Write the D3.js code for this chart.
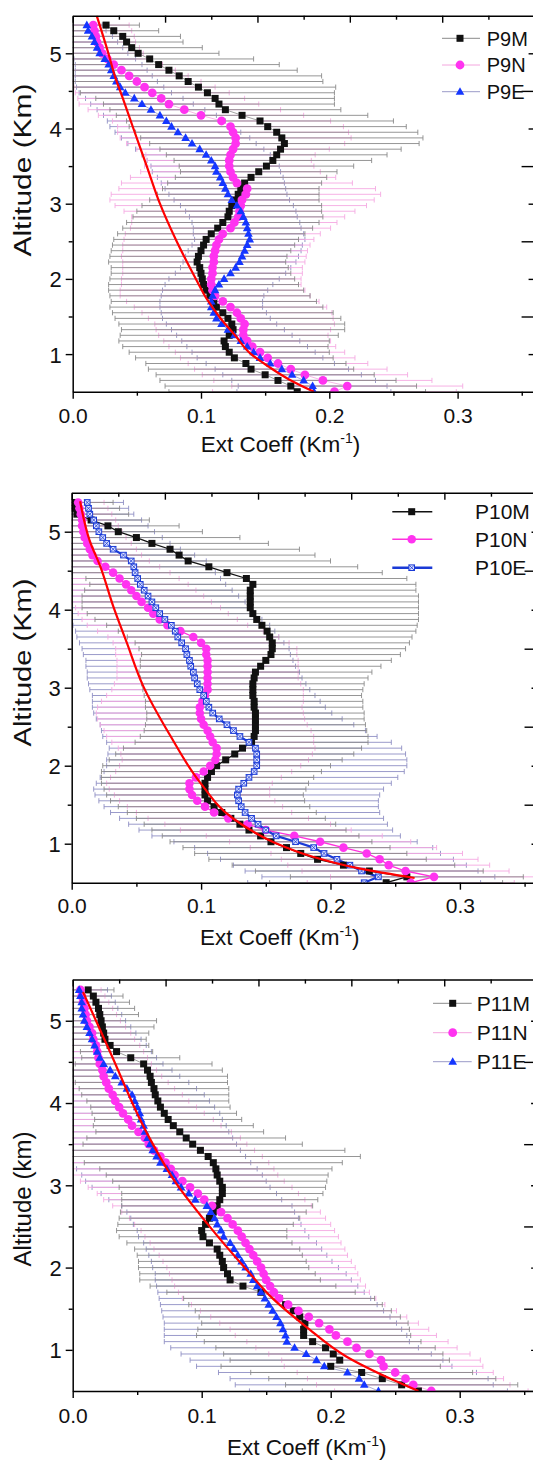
<!DOCTYPE html>
<html><head><meta charset="utf-8">
<script src="https://cdn.jsdelivr.net/npm/d3@7/dist/d3.min.js"></script>
<style>body{margin:0;background:#fff}svg{display:block}</style>
</head><body>
<svg id="c" width="533" height="1460"></svg>
<script>
// ---------------- DATA ----------------
const altitudes = [0.5,0.575,0.65,0.725,0.8,0.875,0.95,1.025,1.1,1.175,
 1.25,1.325,1.4,1.475,1.55,1.625,1.7,1.775,1.85,1.925,
 2.0,2.075,2.15,2.225,2.3,2.375,2.45,2.525,2.6,2.675,
 2.75,2.825,2.9,2.975,3.05,3.125,3.2,3.275,3.35,3.425,
 3.5,3.575,3.65,3.725,3.8,3.875,3.95,4.025,4.1,4.175,
 4.25,4.325,4.4,4.475,4.55,4.625,4.7,4.775,4.85,4.925,
 5.0,5.075,5.15,5.225,5.3,5.375];

const xTickValues = [0, 0.1, 0.2, 0.3];
const xTickLabels = ["0.0", "0.1", "0.2", "0.3"];
const yTickValues = [1, 2, 3, 4, 5];
const yTickLabels = ["1", "2", "3", "4", "5"];

// Panel P9
const p9M = [0.175,0.170,0.160,0.150,0.139,0.135,0.126,0.122,0.119,0.118,
 0.122,0.125,0.124,0.121,0.117,0.112,0.110,0.107,0.104,0.102,
 0.101,0.100,0.099,0.097,0.098,0.100,0.102,0.104,0.108,0.113,
 0.117,0.121,0.122,0.124,0.126,0.129,0.131,0.134,0.139,0.145,
 0.151,0.156,0.159,0.162,0.165,0.163,0.159,0.152,0.146,0.132,
 0.119,0.114,0.111,0.105,0.098,0.090,0.083,0.075,0.067,0.060,
 0.051,0.046,0.042,0.039,0.032,0.026];
const p9MErr = [0.100,0.098,0.092,0.085,0.080,0.078,0.077,0.078,0.080,0.082,
 0.085,0.087,0.088,0.088,0.086,0.083,0.080,0.078,0.076,0.074,
 0.072,0.070,0.069,0.069,0.069,0.070,0.071,0.072,0.073,0.074,
 0.075,0.074,0.072,0.070,0.066,0.063,0.061,0.060,0.059,0.061,
 0.068,0.077,0.086,0.094,0.105,0.110,0.110,0.108,0.104,0.098,
 0.090,0.090,0.093,0.099,0.107,0.105,0.111,0.100,0.094,0.081,
 0.063,0.055,0.044,0.045,0.035,0.026];
const p9N = [0.204,0.214,0.195,0.181,0.170,0.160,0.152,0.146,0.140,0.136,
 0.133,0.133,0.134,0.131,0.128,0.123,0.117,0.111,0.109,0.108,
 0.108,0.109,0.109,0.110,0.110,0.111,0.112,0.114,0.117,0.123,
 0.126,0.129,0.130,0.131,0.132,0.135,0.136,0.128,0.125,0.123,
 0.122,0.122,0.123,0.125,0.127,0.127,0.125,0.123,0.116,0.100,
 0.087,0.075,0.069,0.062,0.056,0.050,0.044,0.038,0.032,0.027,
 0.023,0.021,0.019,0.018,0.017,0.016];
const p9NErr = [0.095,0.090,0.085,0.080,0.075,0.070,0.068,0.066,0.065,0.065,
 0.066,0.068,0.070,0.072,0.074,0.075,0.075,0.074,0.072,0.070,
 0.070,0.070,0.070,0.071,0.072,0.072,0.073,0.074,0.076,0.078,
 0.080,0.083,0.090,0.098,0.103,0.105,0.100,0.090,0.080,0.070,
 0.066,0.064,0.066,0.075,0.085,0.090,0.090,0.088,0.085,0.080,
 0.075,0.070,0.065,0.060,0.055,0.050,0.046,0.042,0.038,0.035,
 0.032,0.031,0.030,0.030,0.029,0.028];
const p9E = [0.188,0.187,0.180,0.171,0.163,0.154,0.146,0.141,0.136,0.131,
 0.126,0.121,0.116,0.112,0.110,0.108,0.108,0.109,0.111,0.114,
 0.118,0.123,0.127,0.130,0.132,0.134,0.136,0.138,0.137,0.136,
 0.135,0.133,0.131,0.128,0.124,0.121,0.119,0.117,0.115,0.112,
 0.111,0.108,0.104,0.099,0.093,0.088,0.082,0.077,0.073,0.068,
 0.061,0.054,0.048,0.041,0.037,0.034,0.032,0.030,0.028,0.025,
 0.021,0.019,0.017,0.015,0.012,0.011];
const p9EErr = [0.060,0.058,0.056,0.054,0.052,0.050,0.049,0.048,0.047,0.046,
 0.045,0.044,0.043,0.042,0.041,0.040,0.040,0.040,0.041,0.042,
 0.043,0.043,0.043,0.044,0.044,0.044,0.043,0.043,0.043,0.042,
 0.042,0.042,0.043,0.044,0.045,0.046,0.047,0.048,0.049,0.050,
 0.050,0.050,0.050,0.050,0.050,0.050,0.049,0.048,0.046,0.044,
 0.042,0.040,0.038,0.036,0.034,0.032,0.030,0.028,0.026,0.024,
 0.022,0.020,0.018,0.016,0.014,0.012];
const p9FitAlt = [0.5,0.66,0.83,1.0,1.24,1.48,1.72,2.0,2.5,3.0,3.5,4.0,4.38,4.69,5.0,5.5];
const p9FitVal = [0.188,0.169,0.153,0.139,0.127,0.115,0.105,0.096,0.081,0.068,0.0577,0.0473,0.0395,0.033,0.0278,0.0187];

// Panel P10
const p10M = [0.243,0.259,0.230,0.210,0.190,0.177,0.166,0.154,0.146,0.137,
 0.130,0.123,0.116,0.110,0.105,0.103,0.103,0.103,0.105,0.108,
 0.112,0.119,0.126,0.132,0.139,0.141,0.142,0.142,0.142,0.142,
 0.141,0.141,0.140,0.140,0.140,0.141,0.142,0.146,0.150,0.154,
 0.155,0.155,0.153,0.151,0.147,0.143,0.140,0.138,0.138,0.138,
 0.138,0.140,0.135,0.120,0.106,0.090,0.083,0.076,0.062,0.050,
 0.036,0.028,0.015,0.004,0.002,0.002];
const p10MErr = [0.09,0.09,0.088,0.086,0.084,0.082,0.08,0.078,0.076,0.075,
 0.074,0.073,0.073,0.074,0.075,0.076,0.078,0.08,0.082,0.085,
 0.088,0.09,0.092,0.092,0.09,0.088,0.086,0.085,0.084,0.084,
 0.084,0.084,0.084,0.085,0.086,0.088,0.09,0.093,0.097,0.1,
 0.103,0.106,0.11,0.115,0.12,0.125,0.128,0.13,0.13,0.13,
 0.128,0.126,0.124,0.12,0.115,0.11,0.105,0.1,0.09,0.08,
 0.065,0.055,0.045,0.04,0.035,0.03];
const p10N = [0.262,0.280,0.258,0.245,0.238,0.228,0.210,0.192,0.172,0.150,
 0.136,0.121,0.110,0.103,0.097,0.093,0.091,0.091,0.096,0.102,
 0.107,0.111,0.112,0.112,0.109,0.107,0.105,0.102,0.100,0.099,
 0.099,0.101,0.103,0.105,0.105,0.105,0.105,0.105,0.105,0.104,
 0.104,0.100,0.094,0.084,0.074,0.068,0.063,0.059,0.054,0.050,
 0.046,0.042,0.037,0.032,0.026,0.020,0.016,0.014,0.012,0.010,
 0.009,0.008,0.008,0.007,0.006,0.005];
const p10NErr = [0.08,0.08,0.08,0.078,0.076,0.074,0.072,0.07,0.068,0.066,
 0.064,0.062,0.06,0.06,0.06,0.06,0.062,0.064,0.066,0.068,
 0.07,0.072,0.074,0.076,0.078,0.08,0.08,0.08,0.08,0.08,
 0.079,0.078,0.076,0.074,0.072,0.07,0.07,0.07,0.07,0.07,
 0.07,0.068,0.066,0.064,0.062,0.06,0.058,0.056,0.054,0.052,
 0.05,0.048,0.046,0.044,0.042,0.04,0.038,0.036,0.034,0.032,
 0.03,0.028,0.026,0.024,0.022,0.02];
const p10E = [0.226,0.237,0.224,0.215,0.205,0.195,0.187,0.173,0.158,0.150,
 0.144,0.139,0.134,0.131,0.129,0.128,0.129,0.133,0.137,0.141,
 0.143,0.143,0.143,0.142,0.137,0.130,0.125,0.120,0.114,0.109,
 0.106,0.104,0.102,0.099,0.097,0.095,0.094,0.092,0.091,0.089,
 0.088,0.085,0.082,0.080,0.077,0.072,0.068,0.065,0.062,0.059,
 0.056,0.053,0.051,0.049,0.048,0.046,0.040,0.032,0.027,0.024,
 0.021,0.019,0.017,0.014,0.013,0.012];
const p10EErr = [0.09,0.09,0.09,0.09,0.09,0.09,0.092,0.094,0.096,0.098,
 0.1,0.102,0.104,0.106,0.108,0.11,0.112,0.114,0.115,0.116,
 0.116,0.116,0.115,0.113,0.11,0.106,0.102,0.098,0.095,0.092,
 0.09,0.088,0.086,0.085,0.084,0.083,0.082,0.081,0.08,0.08,
 0.08,0.079,0.078,0.077,0.076,0.075,0.074,0.073,0.072,0.07,
 0.068,0.066,0.064,0.062,0.06,0.058,0.055,0.052,0.049,0.046,
 0.043,0.04,0.037,0.034,0.031,0.028];
const p10FitAlt = [0.56,0.68,0.83,1.02,1.32,1.79,2.39,3.03,3.58,4.05,4.56,4.88,5.39];
const p10FitVal = [0.265,0.223,0.187,0.156,0.125,0.099,0.076,0.055,0.0425,0.032,0.022,0.014,0.0065];

// Panel P11
const p11M = [0.268,0.255,0.240,0.224,0.200,0.207,0.202,0.196,0.186,0.179,
 0.179,0.180,0.176,0.171,0.165,0.160,0.146,0.132,0.122,0.120,
 0.117,0.116,0.114,0.112,0.106,0.101,0.100,0.103,0.106,0.109,
 0.112,0.114,0.116,0.116,0.114,0.112,0.111,0.109,0.105,0.099,
 0.093,0.088,0.083,0.078,0.074,0.071,0.068,0.066,0.064,0.063,
 0.061,0.060,0.058,0.055,0.045,0.034,0.029,0.025,0.024,0.023,
 0.022,0.021,0.020,0.018,0.016,0.012];
const p11MErr = [0.09,0.09,0.088,0.086,0.085,0.085,0.085,0.085,0.084,0.083,
 0.082,0.08,0.078,0.076,0.075,0.074,0.073,0.072,0.07,0.068,
 0.066,0.065,0.064,0.064,0.064,0.065,0.066,0.068,0.07,0.072,
 0.074,0.076,0.078,0.08,0.083,0.086,0.09,0.1,0.118,0.112,
 0.085,0.077,0.065,0.062,0.057,0.056,0.054,0.055,0.057,0.058,
 0.059,0.06,0.058,0.053,0.038,0.028,0.03,0.032,0.035,0.04,
 0.043,0.03,0.028,0.026,0.023,0.02];
const p11N = [0.278,0.264,0.258,0.250,0.241,0.239,0.230,0.220,0.213,0.204,
 0.199,0.191,0.183,0.175,0.167,0.160,0.156,0.153,0.150,0.148,
 0.146,0.143,0.140,0.137,0.134,0.131,0.128,0.124,0.120,0.115,
 0.108,0.102,0.097,0.091,0.085,0.079,0.076,0.072,0.068,0.063,
 0.059,0.056,0.051,0.046,0.043,0.039,0.036,0.033,0.031,0.028,
 0.026,0.024,0.023,0.021,0.020,0.019,0.018,0.016,0.015,0.013,
 0.011,0.010,0.009,0.008,0.007,0.006];
const p11NErr = [0.075,0.075,0.076,0.076,0.077,0.077,0.078,0.078,0.078,0.078,
 0.077,0.077,0.076,0.076,0.075,0.075,0.074,0.074,0.073,0.073,
 0.073,0.073,0.073,0.074,0.074,0.075,0.075,0.076,0.076,0.077,
 0.077,0.078,0.078,0.079,0.079,0.08,0.08,0.08,0.079,0.078,
 0.076,0.074,0.072,0.069,0.066,0.063,0.06,0.057,0.054,0.051,
 0.048,0.045,0.042,0.04,0.038,0.036,0.034,0.032,0.03,0.028,
 0.026,0.024,0.022,0.02,0.018,0.016];
const p11E = [0.237,0.226,0.222,0.213,0.195,0.189,0.181,0.172,0.166,0.165,
 0.163,0.161,0.158,0.155,0.152,0.149,0.146,0.143,0.140,0.138,
 0.134,0.131,0.128,0.125,0.122,0.117,0.115,0.112,0.110,0.107,
 0.104,0.095,0.090,0.084,0.080,0.077,0.073,0.068,0.065,0.062,
 0.060,0.058,0.056,0.055,0.053,0.052,0.050,0.048,0.046,0.042,
 0.038,0.033,0.029,0.024,0.021,0.019,0.017,0.015,0.013,0.011,
 0.009,0.008,0.007,0.007,0.006,0.005];
const p11EErr = [0.1,0.1,0.1,0.1,0.099,0.098,0.097,0.096,0.095,0.094,
 0.092,0.09,0.088,0.086,0.084,0.082,0.08,0.078,0.076,0.074,
 0.072,0.07,0.069,0.068,0.067,0.066,0.065,0.065,0.065,0.065,
 0.066,0.067,0.068,0.069,0.07,0.07,0.07,0.07,0.069,0.068,
 0.067,0.066,0.065,0.064,0.063,0.062,0.06,0.058,0.056,0.054,
 0.052,0.05,0.048,0.046,0.044,0.042,0.04,0.038,0.036,0.034,
 0.032,0.03,0.028,0.026,0.024,0.022];
const p11FitAlt = [0.5,0.63,0.92,1.28,1.61,1.97,2.54,3.03,3.65,4.62,5.35];
const p11FitVal = [0.268,0.249,0.212,0.181,0.156,0.135,0.104,0.080,0.057,0.029,0.008];

// ---------------- LAYOUT / STYLE ----------------
const FONT = "'Liberation Sans', Arial, Helvetica, sans-serif";
const X_MAX = 0.36;
const topMajor = [0, 0.072, 0.144, 0.216, 0.288, 0.36];
const topMinor = [0.036, 0.108, 0.18, 0.252, 0.324];
const xMinor = [0.05, 0.15, 0.25, 0.35];
const yMinor = [1.5, 2.5, 3.5, 4.5];

const panels = [
  { left: 72.7, top: 15.7, bottom: 391.7, ppu: 1283, heavy: false,
    series: [
      {name: "P9M", vals: p9M, errs: p9MErr, marker: "square", color: "#111", line: "#8a8a8a", lw: 0.8, err: "#8a8a8a"},
      {name: "P9N", vals: p9N, errs: p9NErr, marker: "circle", color: "#ff33f0", line: "#f4a6de", lw: 0.8, err: "#f5a9e2"},
      {name: "P9E", vals: p9E, errs: p9EErr, marker: "triangle", color: "#1436ff", line: "#9a9ac8", lw: 0.8, err: "#8f8fc4"}],
    fitAlt: p9FitAlt, fitVal: p9FitVal,
    legend: {rows: [38.3, 65, 91.7], x1: 442, x2: 480, mx: 460, tx: 486.7, fs: 20},
    ytitle: "Altitude (Km)", ytY: 170, ytLen: 173, xtX: 280.5, xtY: 452, tickBase: 422.7 },
  { left: 71.7, top: 492.7, bottom: 882.7, ppu: 1294, heavy: true,
    series: [
      {name: "P10M", vals: p10M, errs: p10MErr, marker: "square", color: "#111", line: "#111", lw: 1.3, err: "#8a8a8a"},
      {name: "P10N", vals: p10N, errs: p10NErr, marker: "circle", color: "#ff33f0", line: "#ff33dd", lw: 1.3, err: "#f5a9e2"},
      {name: "P10E", vals: p10E, errs: p10EErr, marker: "xsquare", color: "#1a3ad6", line: "#1a3ad6", lw: 2.2, err: "#8f8fc4"}],
    fitAlt: p10FitAlt, fitVal: p10FitVal,
    legend: {rows: [511.7, 539.3, 567.7], x1: 392.3, x2: 432.3, mx: 411.7, tx: 475, fs: 21},
    ytitle: "Altitude (Km)", ytY: 662.5, ytLen: 168, xtX: 279.7, xtY: 945, tickBase: 913 },
  { left: 72.7, top: 979.6, bottom: 1391, ppu: 1290, heavy: false,
    series: [
      {name: "P11M", vals: p11M, errs: p11MErr, marker: "square", color: "#111", line: "#8a8a8a", lw: 0.8, err: "#8a8a8a"},
      {name: "P11N", vals: p11N, errs: p11NErr, marker: "circle", color: "#ff33f0", line: "#f4a6de", lw: 0.8, err: "#f5a9e2"},
      {name: "P11E", vals: p11E, errs: p11EErr, marker: "triangle", color: "#1436ff", line: "#9a9ac8", lw: 0.8, err: "#8f8fc4"}],
    fitAlt: p11FitAlt, fitVal: p11FitVal,
    legend: {rows: [1003.3, 1032.7, 1061.7], x1: 433, x2: 471.7, mx: 452.7, tx: 476.7, fs: 21},
    ytitle: "Altitude (km)", ytY: 1199, ytLen: 135, xtX: 306.7, xtY: 1455, tickBase: 1423 }
];

const svg = d3.select("#c");

function drawMarker(g, type, cx, cy, color, big) {
  if (type === "square") {
    const s = 7;
    g.append("rect").attr("x", cx - s/2).attr("y", cy - s/2).attr("width", s).attr("height", s)
      .attr("fill", color);
  } else if (type === "circle") {
    g.append("circle").attr("cx", cx).attr("cy", cy).attr("r", big ? 4.3 : 4.4).attr("fill", color);
  } else if (type === "triangle") {
    const s = 8.6, h = 7.6;
    g.append("path").attr("d", `M${cx},${cy - h*0.6}L${cx + s/2},${cy + h*0.4}L${cx - s/2},${cy + h*0.4}Z`)
      .attr("fill", color);
  } else if (type === "xsquare") {
    const s = 5.6;
    g.append("rect").attr("x", cx - s/2).attr("y", cy - s/2).attr("width", s).attr("height", s)
      .attr("fill", "#dfe4ff").attr("stroke", color).attr("stroke-width", 1);
    g.append("path").attr("d", `M${cx - s/2},${cy - s/2}L${cx + s/2},${cy + s/2}M${cx + s/2},${cy - s/2}L${cx - s/2},${cy + s/2}`)
      .attr("stroke", color).attr("stroke-width", 0.8);
  }
}

panels.forEach((P, pi) => {
  const right = P.left + X_MAX * P.ppu;
  const x = d3.scaleLinear().domain([0, X_MAX]).range([P.left, right]);
  const y = d3.scaleLinear().domain([0.5, 5.5]).range([P.bottom, P.top]);

  const clipId = "clip" + pi;
  svg.append("clipPath").attr("id", clipId).append("rect")
    .attr("x", P.left).attr("y", P.top).attr("width", right - P.left).attr("height", P.bottom - P.top);
  const g = svg.append("g").attr("clip-path", `url(#${clipId})`);

  // error bars (E, N, M order so gray sits on top)
  [2, 1, 0].forEach(si => {
    const S = P.series[si];
    const pts = altitudes.map((a, i) => ({a, v: S.vals[i], e: S.errs[i]}));
    const eg = g.append("g").attr("stroke", S.err).attr("stroke-width", 0.9).attr("fill", "none");
    eg.selectAll("line.h").data(pts).join("line").attr("class", "h")
      .attr("x1", d => x(d.v - d.e)).attr("x2", d => x(d.v + d.e))
      .attr("y1", d => y(d.a)).attr("y2", d => y(d.a));
    eg.selectAll("line.cl").data(pts).join("line").attr("class", "cl")
      .attr("x1", d => x(d.v - d.e)).attr("x2", d => x(d.v - d.e))
      .attr("y1", d => y(d.a) - 2.6).attr("y2", d => y(d.a) + 2.6);
    eg.selectAll("line.cr").data(pts).join("line").attr("class", "cr")
      .attr("x1", d => x(d.v + d.e)).attr("x2", d => x(d.v + d.e))
      .attr("y1", d => y(d.a) - 2.6).attr("y2", d => y(d.a) + 2.6);
  });

  // connecting lines
  P.series.forEach(S => {
    const pts = altitudes.map((a, i) => ({a, v: S.vals[i]}));
    g.append("path").datum(pts)
      .attr("d", d3.line().x(d => x(d.v)).y(d => y(d.a)))
      .attr("fill", "none").attr("stroke", S.line).attr("stroke-width", S.lw);
  });

  // markers
  P.series.forEach(S => {
    const mg = g.append("g");
    altitudes.forEach((a, i) => drawMarker(mg, S.marker, x(S.vals[i]), y(a), S.color, P.heavy));
  });

  // fitted curve
  const fit = P.fitAlt.map((a, i) => ({a, v: P.fitVal[i]}));
  g.append("path").datum(fit)
    .attr("d", d3.line().x(d => x(d.v)).y(d => y(d.a)).curve(d3.curveMonotoneY))
    .attr("fill", "none").attr("stroke", "#ff0000").attr("stroke-width", 2.2);

  // axes
  const axG = svg.append("g").attr("font-family", FONT);
  const styleAxis = sel => {
    sel.selectAll("path.domain").attr("stroke", "#000").attr("stroke-width", 1.5);
    sel.selectAll(".tick line").attr("stroke", "#000").attr("stroke-width", 1.4);
  };
  const bAx = axG.append("g").attr("transform", `translate(0,${P.bottom})`)
    .call(d3.axisBottom(x).tickValues(xTickValues).tickFormat((d, i) => xTickLabels[i])
      .tickSize(7).tickSizeOuter(0));
  bAx.selectAll("text").attr("dy", null).attr("y", P.tickBase - P.bottom)
    .attr("font-size", 21).attr("font-family", FONT).attr("fill", "#111");
  styleAxis(bAx);
  const bAx2 = axG.append("g").attr("transform", `translate(0,${P.bottom})`)
    .call(d3.axisBottom(x).tickValues(xMinor).tickFormat("").tickSize(4).tickSizeOuter(0));
  bAx2.select(".domain").remove(); styleAxis(bAx2);
  const lAx = axG.append("g").attr("transform", `translate(${P.left},0)`)
    .call(d3.axisLeft(y).tickValues(yTickValues).tickFormat((d, i) => yTickLabels[i])
      .tickSize(7).tickSizeOuter(0).tickPadding(4));
  lAx.selectAll("text").attr("font-size", 22).attr("font-family", FONT).attr("fill", "#111").attr("dy", "0.36em");
  styleAxis(lAx);
  const lAx2 = axG.append("g").attr("transform", `translate(${P.left},0)`)
    .call(d3.axisLeft(y).tickValues(yMinor).tickFormat("").tickSize(4).tickSizeOuter(0));
  lAx2.select(".domain").remove(); styleAxis(lAx2);
  const tAx = axG.append("g").attr("transform", `translate(0,${P.top})`)
    .call(d3.axisTop(x).tickValues(topMajor).tickFormat("").tickSize(-7).tickSizeOuter(0));
  styleAxis(tAx);
  const tAx2 = axG.append("g").attr("transform", `translate(0,${P.top})`)
    .call(d3.axisTop(x).tickValues(topMinor).tickFormat("").tickSize(-4).tickSizeOuter(0));
  tAx2.select(".domain").remove(); styleAxis(tAx2);
  const rAx = axG.append("g").attr("transform", `translate(${right},0)`)
    .call(d3.axisRight(y).tickValues(yTickValues).tickFormat("").tickSize(-6).tickSizeOuter(0));
  styleAxis(rAx);
  const rAx2 = axG.append("g").attr("transform", `translate(${right},0)`)
    .call(d3.axisRight(y).tickValues(yMinor).tickFormat("").tickSize(-13).tickSizeOuter(0));
  rAx2.select(".domain").remove(); styleAxis(rAx2);

  // axis titles
  const xt = svg.append("text").attr("x", P.xtX).attr("y", P.xtY).attr("text-anchor", "middle")
    .attr("font-family", FONT).attr("font-size", 22.5).attr("fill", "#111");
  xt.append("tspan").text("Ext Coeff (Km");
  xt.append("tspan").attr("font-size", 14).attr("dy", -9).text("-1");
  xt.append("tspan").attr("dy", 9).text(")");

  svg.append("text").attr("transform", `translate(30.5,${P.ytY}) rotate(-90)`)
    .attr("text-anchor", "middle").attr("font-family", FONT).attr("font-size", 23).attr("fill", "#111")
    .attr("textLength", P.ytLen).attr("lengthAdjust", "spacingAndGlyphs")
    .text(P.ytitle);

  // legend
  const L = P.legend;
  P.series.forEach((S, si) => {
    const ry = L.rows[si];
    const lg = svg.append("g");
    lg.append("line").attr("x1", L.x1).attr("x2", L.x2).attr("y1", ry).attr("y2", ry)
      .attr("stroke", S.line).attr("stroke-width", P.heavy ? S.lw + 0.3 : 1);
    drawMarker(lg, S.marker, L.mx, ry, S.color, P.heavy);
    lg.append("text").attr("x", L.tx).attr("y", ry).attr("dy", "0.36em")
      .attr("font-family", FONT).attr("font-size", L.fs).attr("fill", "#111").text(S.name);
  });
});
</script>
</body></html>
